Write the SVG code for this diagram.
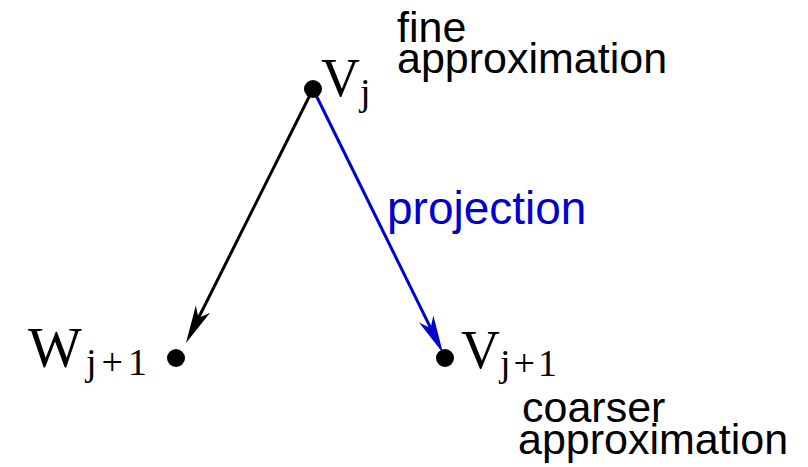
<svg xmlns="http://www.w3.org/2000/svg" width="808" height="467" viewBox="0 0 808 467">
<style>
.lbl{font-family:"Liberation Sans",Arial,sans-serif;font-size:43px;fill:#000}
.blue{fill:#0000cc;font-size:46px}
.math{font-family:"Liberation Serif","Times New Roman",serif;font-size:54px;fill:#000}
.sub{font-size:38px;letter-spacing:3px}
.dot{fill:#000}
.edge{fill:none;stroke-width:3}
</style>
<defs>
<marker id="ahK" markerUnits="userSpaceOnUse" orient="auto" refX="0" refY="0" overflow="visible">
<path d="M28,0 L-10,-8 L0,0 L-10,8 Z" fill="#000"/>
</marker>
<marker id="ahB" markerUnits="userSpaceOnUse" orient="auto" refX="0" refY="0" overflow="visible">
<path d="M28,0 L-10,-8 L0,0 L-10,8 Z" fill="#0000cc"/>
</marker>
</defs>
<g id="connectors">
<line class="edge" x1="313" y1="89" x2="198.5" y2="318" stroke="#000" marker-end="url(#ahK)"/>
<line class="edge" x1="313" y1="89" x2="430.6" y2="327.9" stroke="#0000cc" marker-end="url(#ahB)"/>
<text class="lbl blue" x="387" y="224">projection</text>
</g>
<g id="node-Vj">
<circle class="dot" cx="313" cy="89" r="9"/>
<text class="math" x="321" y="96">V<tspan class="sub" dy="9">j</tspan></text>
<text class="lbl" x="397" y="42">fine</text>
<text class="lbl" x="397" y="73">approximation</text>
</g>
<g id="node-Wj1">
<circle class="dot" cx="176" cy="358" r="9"/>
<text class="math" x="28" y="367" style="font-size:57px">W<tspan class="sub" x="86" dy="8" style="letter-spacing:5px">j+1</tspan></text>
</g>
<g id="node-Vj1">
<circle class="dot" cx="445" cy="358" r="9"/>
<text class="math" x="461" y="368">V<tspan class="sub" dy="8">j+1</tspan></text>
<text class="lbl" x="522" y="422">coarser</text>
<text class="lbl" x="518" y="454">approximation</text>
</g>
</svg>
